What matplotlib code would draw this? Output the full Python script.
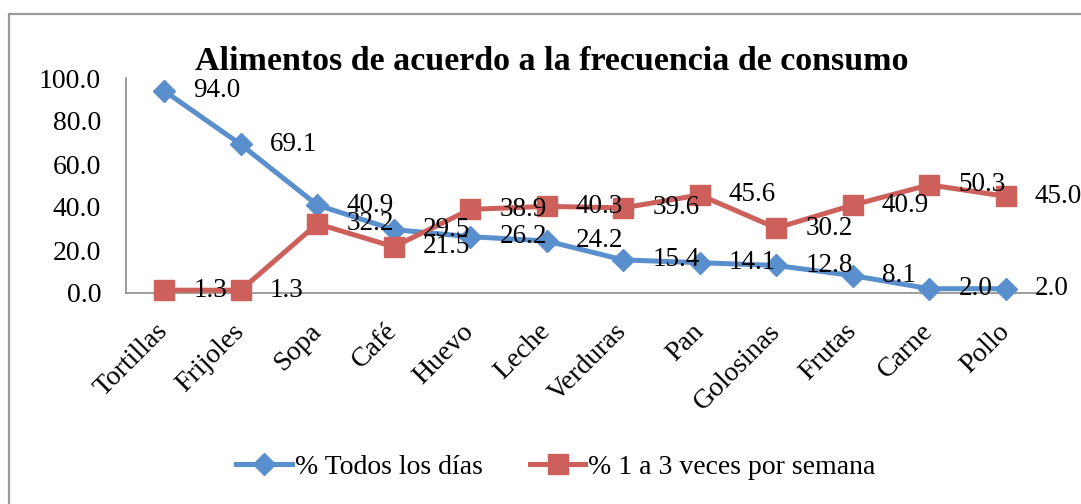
import matplotlib
matplotlib.use("Agg")
import matplotlib.pyplot as plt
from matplotlib.patches import Rectangle
import matplotlib.transforms as mtransforms

categories = ["Tortillas", "Frijoles", "Sopa", "Café", "Huevo", "Leche",
              "Verduras", "Pan", "Golosinas", "Frutas", "Carne", "Pollo"]
todos_dias = [94.0, 69.1, 40.9, 29.5, 26.2, 24.2, 15.4, 14.1, 12.8, 8.1, 2.0, 2.0]
semana = [1.3, 1.3, 32.2, 21.5, 38.9, 40.3, 39.6, 45.6, 30.2, 40.9, 50.3, 45.0]
y_ticks = [0, 20, 40, 60, 80, 100]

blue = "#5A8FCD"
red = "#CE605B"
axis_gray = "#8C8C8C"
font = "Liberation Serif"
fs = 20

plt.rcParams["font.family"] = font

fig = plt.figure(figsize=(10.81, 5.04), dpi=100)
ax = fig.add_axes([126 / 1081, 1 - 293 / 504, (1044 - 126) / 1081, (293 - 78) / 504])

# outer chart border (runs off the right and bottom edges)
fig.patches.append(Rectangle((9 / 1081, -0.1), 1.2, 1 - 14 / 504 + 0.1,
                             transform=fig.transFigure, fill=False,
                             edgecolor="#9A9A9A", lw=1.6))

x = list(range(len(categories)))
ax.plot(x, todos_dias, color=blue, lw=3.6, marker="D", markersize=11,
        markeredgecolor=blue, label="% Todos los días", zorder=3)
ax.plot(x, semana, color=red, lw=3.6, marker="s", markersize=14.5,
        markeredgecolor=red, label="% 1 a 3 veces por semana", zorder=3)

# data labels, right of each point
for xi, v in zip(x, todos_dias):
    ax.annotate(f"{v:.1f}", (xi, v), xytext=(21, 0), textcoords="offset points",
                ha="left", va="center", fontsize=19.5, zorder=4)
for xi, v in zip(x, semana):
    ax.annotate(f"{v:.1f}", (xi, v), xytext=(21, 0), textcoords="offset points",
                ha="left", va="center", fontsize=19.5, zorder=4)

ax.set_xlim(-0.5, len(categories) - 0.5)
ax.set_ylim(0, 100)
ax.set_yticks(y_ticks)
ax.set_yticklabels([f"{t:.1f}" for t in y_ticks], fontsize=fs)
ax.set_xticks(x)
ax.set_xticklabels(categories, fontsize=fs, rotation=45, ha="right",
                   va="center", rotation_mode="anchor")
offset = mtransforms.ScaledTranslation(11 / 100, 0, fig.dpi_scale_trans)
for lab in ax.get_xticklabels():
    lab.set_transform(lab.get_transform() + offset)
ax.tick_params(axis="x", length=0, pad=25)
ax.tick_params(axis="y", length=0, pad=18)

for s in ["top", "right"]:
    ax.spines[s].set_visible(False)
ax.spines["left"].set_color(axis_gray)
ax.spines["bottom"].set_color(axis_gray)
ax.spines["left"].set_linewidth(1.2)
ax.spines["bottom"].set_linewidth(1.2)
for line in ax.lines:
    line.set_clip_on(False)

fig.text(552 / 1081, 1 - 61 / 504, "Alimentos de acuerdo a la frecuencia de consumo",
         ha="center", va="center", fontsize=24.5, fontweight="bold")

fig.legend(loc="center", bbox_to_anchor=(556 / 1081, 1 - 467 / 504), ncol=2,
           frameon=False, fontsize=fs, handlelength=2.0, handletextpad=0.1,
           columnspacing=1.7)

fig.savefig("out.png", dpi=100)
